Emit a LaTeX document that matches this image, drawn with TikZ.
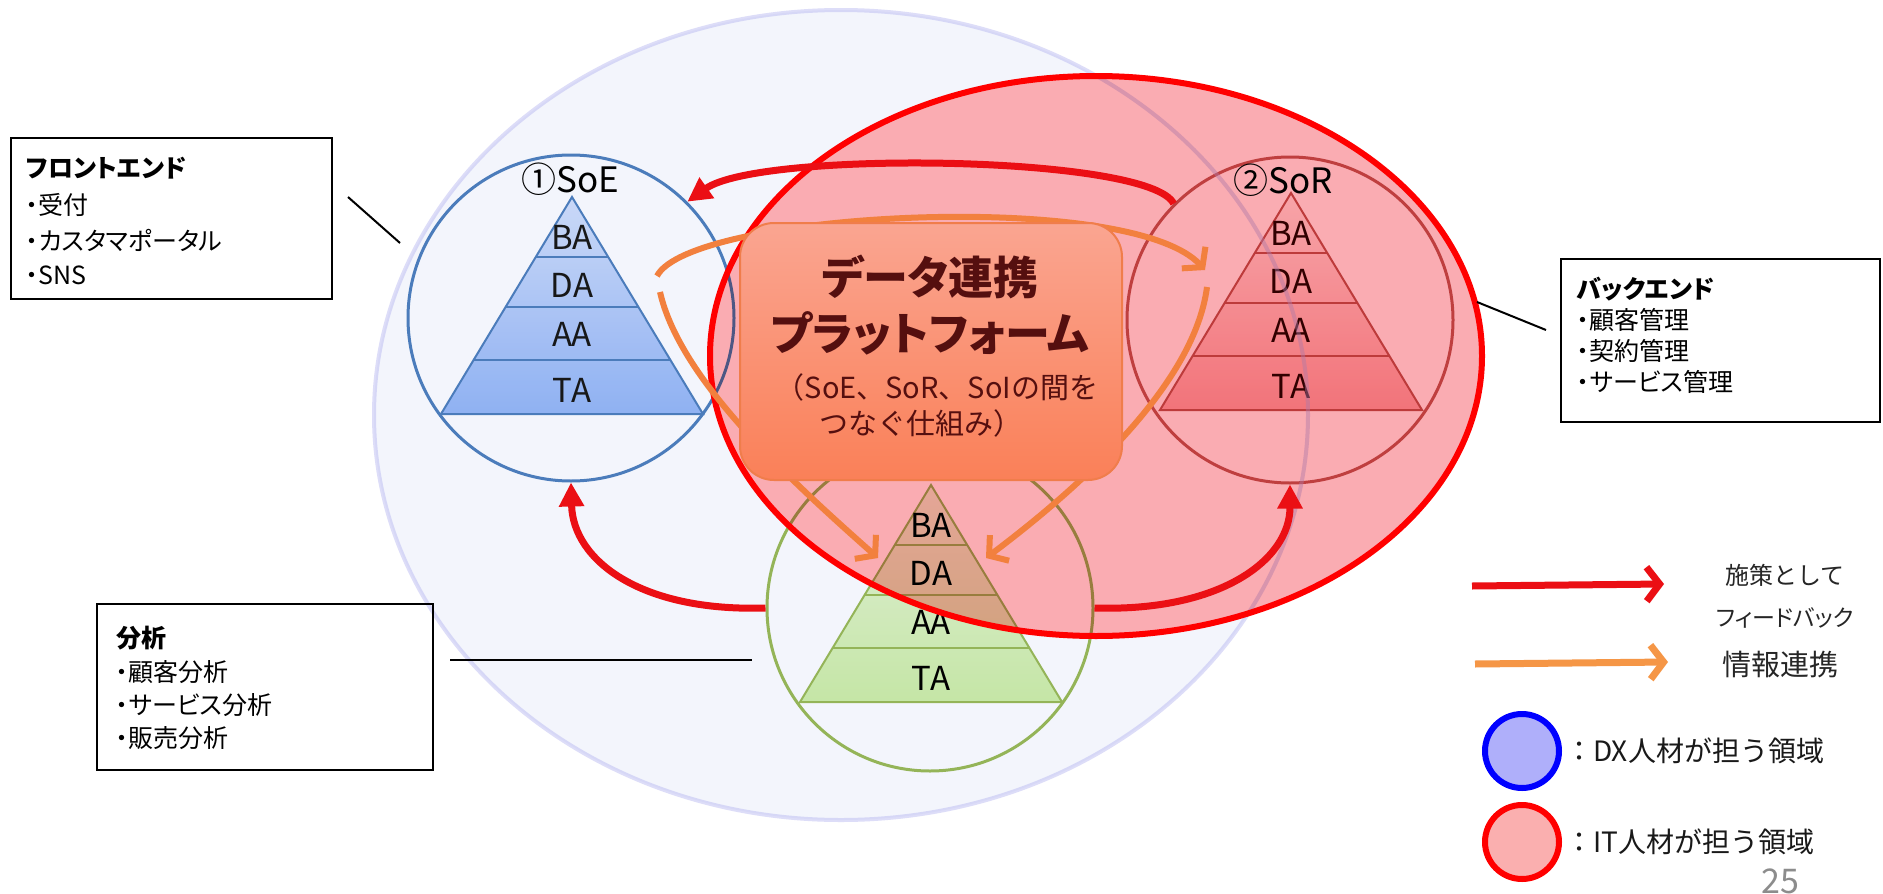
\documentclass[tikz,border=0pt]{standalone}
\usepackage{fontspec}
\setmainfont{Noto Sans CJK JP}
\newfontfamily\jpp{Noto Sans CJK JP}[RawFeature=+palt]
\usetikzlibrary{arrows.meta}
\definecolor{soeblue}{RGB}{79,129,189}
\definecolor{soetop}{RGB}{212,225,250}
\definecolor{soebot}{RGB}{150,184,245}
\definecolor{sorline}{RGB}{196,95,92}
\definecolor{sorpyr}{RGB}{194,89,86}
\definecolor{sortop}{RGB}{252,244,242}
\definecolor{sorbot}{RGB}{247,172,175}
\definecolor{soigreen}{RGB}{155,187,89}
\definecolor{soitop}{RGB}{234,247,218}
\definecolor{soibot}{RGB}{207,239,168}
\definecolor{bigfill}{RGB}{218,225,248}
\definecolor{bigline}{RGB}{180,180,240}
\definecolor{redfill}{RGB}{247,117,127}
\definecolor{arrred}{RGB}{235,15,20}
\definecolor{arrorange}{RGB}{242,128,62}
\definecolor{legorange}{RGB}{245,150,70}
\definecolor{dptop}{RGB}{250,165,145}
\definecolor{dpbot}{RGB}{250,128,88}
\definecolor{dpedge}{RGB}{240,125,75}
\definecolor{dptext}{RGB}{85,15,15}
\definecolor{legblue}{RGB}{175,175,250}
\definecolor{legpink}{RGB}{250,175,175}
\tikzset{
  pyrtext/.style={inner sep=0pt, font=\fontsize{33pt}{38pt}\selectfont},
  syslabel/.style={inner sep=0pt, font=\fontsize{35pt}{40pt}\selectfont},
  ring/.style={circle, inner sep=0pt, minimum size=326pt, line width=3pt},
  boxtxt/.style={inner sep=0pt, anchor=west, font=\jpp\fontsize{25pt}{30pt}\selectfont},
  boxhead/.style={inner sep=0pt, anchor=west, font=\jpp\fontsize{25pt}{30pt}\selectfont\bfseries},
  txbox/.style={draw=black, line width=2pt, anchor=north west, inner sep=0pt},
  ptr/.style={draw=black, line width=2pt},
  redarrow/.style={draw=arrred, line width=7pt, -{Triangle[length=24pt,width=24pt]}},
  orarrow/.style={draw=arrorange, line width=6pt, -{Straight Barb[length=13pt,width=32pt]}},
  legred/.style={draw=arrred, line width=7pt, -{Straight Barb[length=13pt,width=34pt]}},
  legor/.style={draw=legorange, line width=7pt, -{Straight Barb[length=13pt,width=34pt]}},
  dptitle/.style={inner sep=0pt, font=\jpp\fontsize{45pt}{50pt}\selectfont\bfseries, text=dptext},
  dpsub/.style={inner sep=0pt, font=\fontsize{29pt}{34pt}\selectfont, text=dptext},
  legtxt/.style={inner sep=0pt, font=\fontsize{24pt}{30pt}\selectfont, text=black!85},
  legbig/.style={inner sep=0pt, font=\fontsize{29pt}{34pt}\selectfont, text=black!85},
  legarea/.style={inner sep=0pt, anchor=west, font=\fontsize{28pt}{32pt}\selectfont, text=black!90},
  legring/.style={circle, inner sep=0pt, minimum size=74pt, line width=6pt},
}
% #1 name, #2 apex x, #3 apex y, #4 top colour, #5 bottom colour, #6 line colour, #7 text colour
\newcommand{\drawpyr}[7]{%
  \shadedraw[top color=#4, bottom color=#5, draw=#6, line width=2pt]
    (#2,#3) -- ({#2-131},{#3+217}) -- ({#2+131},{#3+217}) -- cycle;
  \draw[#6, line width=2pt] ({#2-36},{#3+60}) -- ({#2+36},{#3+60});
  \draw[#6, line width=2pt] ({#2-66},{#3+110}) -- ({#2+66},{#3+110});
  \draw[#6, line width=2pt] ({#2-98},{#3+163}) -- ({#2+98},{#3+163});
  \node[pyrtext, text=#7] (#1BA) at (#2,{#3+40}) {BA};
  \node[pyrtext, text=#7] (#1DA) at (#2,{#3+88}) {DA};
  \node[pyrtext, text=#7] (#1AA) at (#2,{#3+137}) {AA};
  \node[pyrtext, text=#7] (#1TA) at (#2,{#3+193}) {TA};
}
\begin{document}
\begin{tikzpicture}[x=1pt, y=-1pt]
\useasboundingbox (0,0) rectangle (1883,894);
\fill[white] (0,0) rectangle (1883,894);

% system circles
\node[ring, draw=soeblue] (soe) at (571,318) {};
\node[ring, draw=sorline] (sor) at (1290,320) {};
\node[ring, draw=soigreen] (soi) at (930,608) {};

% pyramids
\drawpyr{soe}{572}{197}{soetop}{soebot}{soeblue}{black!90}
\drawpyr{sor}{1291}{193}{sortop}{sorbot}{sorpyr}{black!80!red}
\drawpyr{soi}{931}{485}{soitop}{soibot}{soigreen}{black}

\node[syslabel] (soelabel) at (570,179) {①SoE};
\node[syslabel] (sorlabel) at (1283,180) {②SoR};

% large DX area (fill kept out of the IT area)
\begin{scope}[even odd rule]
  \clip (-20,-20) rectangle (1903,914)
        (1096,356) ellipse [x radius=386pt, y radius=280pt];
  \begin{scope}[blend mode=multiply]
    \fill[bigfill, fill opacity=0.3] (841,415) ellipse [x radius=467pt, y radius=405pt];
  \end{scope}
\end{scope}
\draw[bigline, draw opacity=0.45, line width=4pt] (841,415) ellipse [x radius=467pt, y radius=405pt];

% IT area
\begin{scope}[blend mode=multiply]
  \fill[redfill, fill opacity=0.6] (1096,356) ellipse [x radius=386pt, y radius=280pt];
\end{scope}
\draw[red, line width=6pt] (1096,356) ellipse [x radius=386pt, y radius=280pt];

% information links (orange)
\coordinate (oa1) at (657,276);
\coordinate (ob1) at (1205,270);
\coordinate (oa2) at (660,292);
\coordinate (ob2) at (878,558);
\coordinate (oa3) at (1207,287);
\coordinate (ob3) at (986,558);
\draw[orarrow] (oa1) .. controls (690,212) and (1130,188) .. (ob1);
\draw[orarrow] (oa2) .. controls (680,380) and (790,480) .. (ob2);
\draw[orarrow] (oa3) .. controls (1195,380) and (1090,480) .. (ob3);

% data platform
\node[draw=dpedge, line width=2pt, rounded corners=34pt, minimum width=382pt, minimum height=257pt,
      top color=dptop, bottom color=dpbot, inner sep=0pt] (dp) at (931,351.5) {};
\node[dptitle] (dpt1) at (930,277) {データ連携};
\node[dptitle] (dpt2) at (930,333) {プラットフォーム};
\node[dpsub] (dps1) at (937,387) {（SoE、SoR、SoIの間を};
\node[dpsub] (dps2) at (921,423) {つなぐ仕組み）};

% feedback arrows (red)
\draw[redarrow] (sor.135) .. controls (1150,155) and (760,150) .. (soe.45);
\draw[redarrow] (soi.west) .. controls (640,612) and (573,560) .. (soe.south);
\draw[redarrow] (soi.east) .. controls (1220,612) and (1290,560) .. (sor.south);

% front end box
\node[txbox, minimum width=321pt, minimum height=161pt] (fe) at (10,137) {};
\node[boxhead] (fe0) at (26,168) {フロントエンド};
\node[boxtxt] (fe1) at (26,205) {・受付};
\node[boxtxt] (fe2) at (26,240) {・カスタマポータル};
\node[boxtxt] (fe3) at (26,275) {・SNS};
\coordinate (fp1) at (348,197);
\coordinate (fp2) at (400,243);
\draw[ptr] (fp1) -- (fp2);

% back end box
\node[txbox, minimum width=319pt, minimum height=163pt] (be) at (1560,258) {};
\node[boxhead] (be0) at (1577,289) {バックエンド};
\node[boxtxt] (be1) at (1577,320) {・顧客管理};
\node[boxtxt] (be2) at (1577,351) {・契約管理};
\node[boxtxt] (be3) at (1577,382) {・サービス管理};
\coordinate (bp1) at (1477,302);
\coordinate (bp2) at (1546,330);
\draw[ptr] (bp1) -- (bp2);

% analysis box
\node[txbox, minimum width=336pt, minimum height=166pt] (an) at (96,603) {};
\node[boxhead] (an0) at (116,638) {分析};
\node[boxtxt] (an1) at (116,672) {・顧客分析};
\node[boxtxt] (an2) at (116,705) {・サービス分析};
\node[boxtxt] (an3) at (116,738) {・販売分析};
\coordinate (ap1) at (450,660);
\coordinate (ap2) at (752,660);
\draw[ptr] (ap1) -- (ap2);

% legend
\coordinate (lr1) at (1472,586);
\coordinate (lr2) at (1664,584);
\draw[legred] (lr1) -- (lr2);
\coordinate (lo1) at (1475,664);
\coordinate (lo2) at (1668,662);
\draw[legor] (lo1) -- (lo2);
\node[legtxt] (lt1) at (1785,575) {施策として};
\node[legtxt, font=\jpp\fontsize{23pt}{28pt}\selectfont] (lt2) at (1785,618) {フィードバック};
\node[legbig] (lt3) at (1780,665) {情報連携};
\node[legring, draw=blue, fill=legblue] (lgb) at (1522,751) {};
\node[legring, draw=red, fill=legpink] (lgr) at (1522,842) {};
\node[legarea] (lta) at (1565,751) {：DX人材が担う領域};
\node[legarea] (ltb) at (1565,842) {：IT人材が担う領域};
\node[inner sep=0pt, anchor=base, font=\fontsize{34pt}{40pt}\selectfont, text=black!45] (pg) at (1780,893) {25};
\end{tikzpicture}
\end{document}
